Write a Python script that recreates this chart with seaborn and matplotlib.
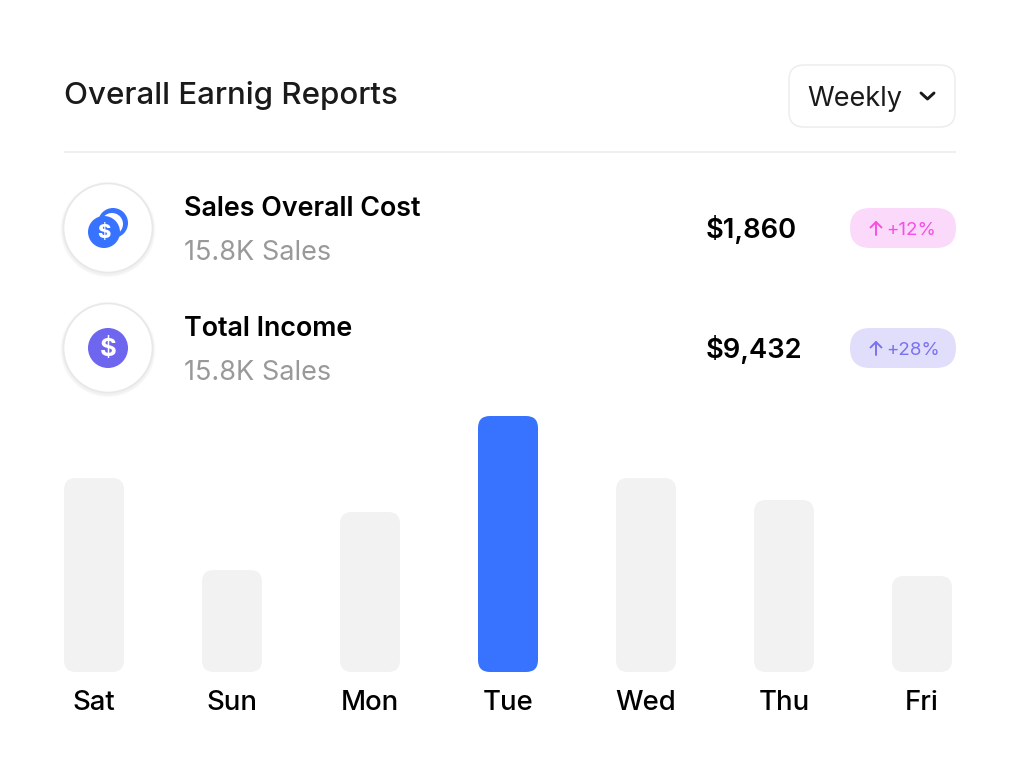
# overall earnings card - bars through seaborn, card furniture on a pixel overlay
import matplotlib
matplotlib.use('Agg')
import matplotlib.pyplot as plt
from matplotlib.patches import Circle, FancyBboxPatch
import pandas as pd
import seaborn as sns

days = ['Sat', 'Sun', 'Mon', 'Tue', 'Wed', 'Thu', 'Fri']
sales = [194, 102, 160, 256, 194, 172, 96]
active_day = 'Tue'

title = 'Overall Earnig Reports'
period = 'Weekly'
row_names = ['Sales Overall Cost', 'Total Income']
row_subs = ['15.8K Sales', '15.8K Sales']
row_amounts = ['$1,860', '$9,432']
row_changes = ['+12%', '+28%']

BLUE = '#3873FF'
PURPLE = '#6F66F0'
GREY = '#F2F2F2'

W, H = 1020, 784
sns.set_theme(style='white')
plt.rcParams['font.family'] = ['Inter', 'DejaVu Sans']

fig = plt.figure(figsize=(W / 100, H / 100), dpi=100, facecolor='white')

# bars: 138px slots, 256 units = 256px
ax = fig.add_axes([25 / W, (H - 672) / H, 966 / W, 256 / H])
df = pd.DataFrame({'day': days, 'sales': sales})
sns.barplot(data=df, x='day', y='sales', order=days, width=60 / 138, ax=ax, color=GREY)
ax.set_xlim(-0.5, 6.5)
ax.set_ylim(0, 256)
ax.set_xlabel('')
ax.set_ylabel('')
ax.set_yticks([])
ax.tick_params(axis='x', length=0, pad=13, labelsize=19.8, labelcolor='black')
for label in ax.get_xticklabels():
    label.set_fontweight('medium')
sns.despine(ax=ax, left=True, bottom=True)
ax.patch.set_alpha(0)

# swap square bars for rounded ones, same geometry
for bar, day in zip(list(ax.patches), days):
    rounded = FancyBboxPatch((bar.get_x(), bar.get_y()), bar.get_width(), bar.get_height(),
                             boxstyle=f'round,pad=0,rounding_size={12 / 138}',
                             mutation_aspect=138, linewidth=0,
                             facecolor=BLUE if day == active_day else GREY)
    ax.add_patch(rounded)
    bar.remove()

# overlay in reference pixels, y down
ui = fig.add_axes([0, 0, 1, 1], zorder=-1)
ui.set_xlim(0, W)
ui.set_ylim(H, 0)
ui.axis('off')

ui.text(64, 95, title, fontsize=22.5, fontweight='medium', color='#1A1A1A', va='center')
ui.plot([64, 956], [151.5, 151.5], color='#EBEBEB', lw=1.1, solid_capstyle='butt')

# dropdown
ui.add_patch(FancyBboxPatch((789, 65.5), 166, 62, boxstyle='round,pad=0,rounding_size=15',
                            linewidth=0, facecolor='black', alpha=0.03))
ui.add_patch(FancyBboxPatch((789, 65), 166, 62, boxstyle='round,pad=0,rounding_size=15',
                            linewidth=1.1, edgecolor='#EDEDED', facecolor='white'))
ui.text(807.5, 98.5, period, fontsize=19.5, color='#1A1A1A', va='center')
ui.plot([921, 927.5, 934], [93, 99, 93], color='#1A1A1A', lw=2.1,
        solid_capstyle='round', solid_joinstyle='round')

row_y = [228, 348]
pill_bg = ['#FBD9FB', '#E1DEFB']
pill_fg = ['#F550E6', '#7B72F0']
for i, y in enumerate(row_y):
    # icon disc with soft shadow
    for grow, alpha in [(3, 0.012), (2, 0.018), (1, 0.025)]:
        ui.add_patch(Circle((108, y + 1.5), 45 + grow, facecolor='black', alpha=alpha, linewidth=0))
    ui.add_patch(Circle((108, y), 44.5, facecolor='white', edgecolor='#E8E8E8', linewidth=1.2))

    ui.text(184, y - 19.5, row_names[i], fontsize=19.35, fontweight='semibold', color='black', va='center')
    ui.text(184, y + 25, row_subs[i], fontsize=19.5, color='#999999', va='center')
    ui.text(706, y + 1, row_amounts[i], fontsize=19.7, fontweight='semibold', color='black', va='center')

    # change pill
    ui.add_patch(FancyBboxPatch((850, y - 20), 106, 40, boxstyle='round,pad=0,rounding_size=20',
                                linewidth=0, facecolor=pill_bg[i]))
    ui.text(886.5, y + 2, row_changes[i], fontsize=13.5, color=pill_fg[i], va='center')
    ui.plot([876, 876], [y - 6, y + 7], color=pill_fg[i], lw=1.4)
    ui.plot([870.5, 876, 881.5], [y - 0.5, y - 6, y - 0.5], color=pill_fg[i], lw=1.4)

# coin icons
ui.add_patch(Circle((113, 223), 15, facecolor=BLUE, linewidth=0))
ui.add_patch(Circle((112, 224), 11, facecolor='white', linewidth=0))
ui.add_patch(Circle((104, 232), 16, facecolor=BLUE, linewidth=0))
ui.text(104, 233, '$', fontsize=14.5, fontweight='heavy', color='white', ha='center', va='center')
ui.add_patch(Circle((108, 348), 20, facecolor=PURPLE, linewidth=0))
ui.text(108, 349, '$', fontsize=18.5, fontweight='bold', color='white', ha='center', va='center')

fig.savefig('out.png', dpi=100)
plt.close(fig)
